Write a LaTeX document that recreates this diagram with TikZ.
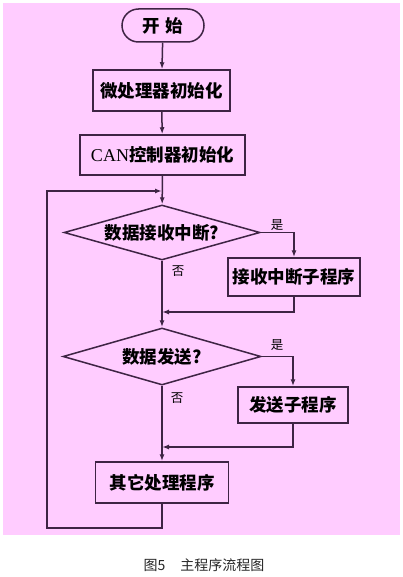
\documentclass[tikz,border=0pt]{standalone}
\usepackage{fontspec}
\newfontfamily\cjk{Noto Sans CJK SC}
\newfontfamily\tms{Liberation Serif}
\usetikzlibrary{arrows.meta,shapes.geometric,shapes.misc}
\definecolor{bgpink}{HTML}{FFCCFF}
\definecolor{ln}{HTML}{3E2444}
\tikzset{
  every node/.style={font=\cjk},
  line/.style={draw=ln,line width=1.5pt},
  arr/.style={line,-{Latex[length=7pt,width=5pt]}},
  box/.style={draw=ln,line width=1.5pt,rectangle,inner sep=0pt,font=\cjk\bfseries\fontsize{17.5}{17.5}\selectfont},
  term/.style={box,rounded rectangle},
  dec/.style={draw=ln,line width=1.5pt,diamond,aspect=3.56,inner sep=0pt,font=\cjk\bfseries\fontsize{17.5}{17.5}\selectfont},
  lab/.style={font=\cjk\fontsize{12.5}{12.5}\selectfont,text=black},
}
\begin{document}
\begin{tikzpicture}[x=1pt,y=-1pt]
\useasboundingbox (0,0) rectangle (402,577);
\fill[bgpink] (3,3) rectangle (400,535);
\node[term,minimum width=82pt,minimum height=33pt] (start) at (163,25.5) {开\hspace{6pt}始};
\node[box,minimum width=137pt,minimum height=41pt] (b1) at (161.5,90.5) {微处理器初始化};
\node[box,minimum width=165pt,minimum height=40pt] (b2) at (162.5,155) {{\tms\mdseries\fontsize{18}{18}\selectfont CAN}控制器初始化};
\node[dec,minimum width=196pt,minimum height=55pt] (d1) at (162,232.5) {数据接收中断?};
\node[box,minimum width=132pt,minimum height=38pt] (s1) at (294,277) {接收中断子程序};
\node[dec,minimum width=198pt,minimum height=57pt] (d2) at (162,356.5) {数据发送?};
\node[box,minimum width=110pt,minimum height=36pt] (s2) at (293,405) {发送子程序};
\node[box,minimum width=133pt,minimum height=41pt] (b3) at (162,482.5) {其它处理程序};

\coordinate (loopin) at (162,191);
\coordinate (j1) at (162,312);
\coordinate (j2) at (162,447);
\coordinate (bl) at (47,528);

\draw[arr] (start) -- (b1);
\draw[arr] (b1) -- (b2);
\draw[arr] (b2) -- (d1);
\draw[arr] (d1.east) -| (s1.north);
\draw[arr] (s1.south) |- (j1);
\draw[arr] (d1) -- (d2);
\draw[arr] (d2.east) -| (s2.north);
\draw[arr] (s2.south) |- (j2);
\draw[arr] (d2) -- (b3);
\draw[line] (b3.south) |- (bl) -- (47,191) -- ++(108,0);
\draw[arr] (47,191) -- (loopin);

\node[lab] at (277,225) {是};
\node[lab] at (178,271) {否};
\node[lab] at (277,345) {是};
\node[lab] at (177,398) {否};

\node[font=\cjk\fontsize{14}{14}\selectfont,text=black!85] (cap) at (204,565) {图5\hspace{15pt}主程序流程图};
\end{tikzpicture}
\end{document}
